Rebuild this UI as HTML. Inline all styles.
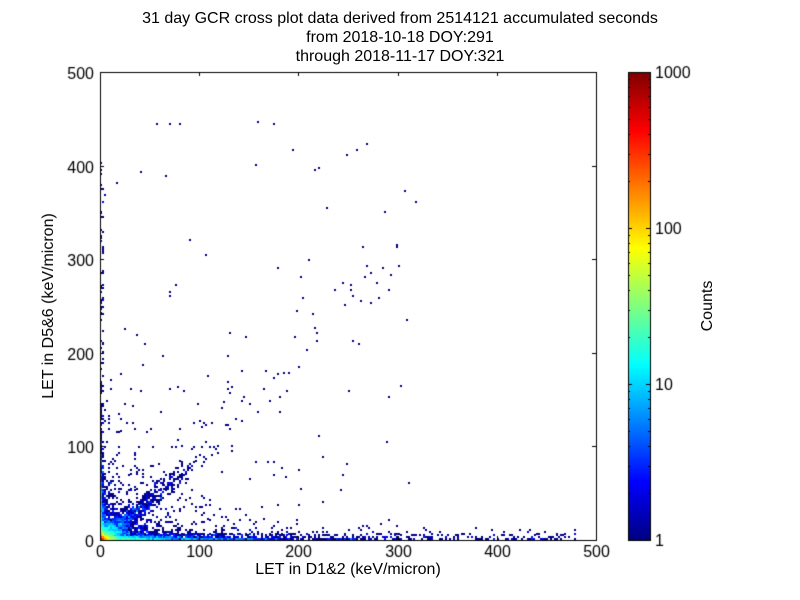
<!DOCTYPE html>
<html><head><style>
body{margin:0;background:#fff;width:800px;height:600px;overflow:hidden;position:relative;font-family:"Liberation Sans","DejaVu Sans",sans-serif;}
.t{position:absolute;font-size:16px;color:#000;white-space:nowrap;}
canvas{position:absolute;left:0;top:0}
</style></head><body>
<canvas id="c" width="800" height="600"></canvas>
<div class="t" style="left:0;width:800px;text-align:center;top:9px;line-height:19px">31 day GCR cross plot data derived from 2514121 accumulated seconds<br>from 2018-10-18 DOY:291<br>through 2018-11-17 DOY:321</div>
<div class="t" style="left:100px;width:496px;text-align:center;top:561px">LET in D1&amp;2 (keV/micron)</div>
<div class="t" style="left:49px;top:306px;transform:translate(-50%,-50%) rotate(-90deg)">LET in D5&amp;6 (keV/micron)</div>
<div class="t" style="left:708px;top:306px;transform:translate(-50%,-50%) rotate(-90deg)">Counts</div>
<script>
var c=document.getElementById('c').getContext('2d');
var X0=100,X1=596,Y0=72,Y1=540;
function px(v){return X0+v*(X1-X0)/500}function py(v){return Y1-v*(Y1-Y0)/500}
var s=12345;function r(){s=(s*1103515245+12345)%2147483648;return s/2147483648}
function jet(t){t=Math.max(0,Math.min(1,t));function f(x){return Math.round(255*Math.max(0,Math.min(1,1.5-Math.abs(x))))}
return 'rgb('+f(4*t-3)+','+f(4*t-2)+','+f(4*t-1)+')'}
var bins={};
function add(x,y,n){if(x<0||y<0||x>=500||y>=500)return;var k=Math.floor(x/2)+','+Math.floor(y/2);bins[k]=(bins[k]||0)+(n||1)}
var i,x,y,t;
for(i=0;i<1500;i++){x=-Math.log(r())*70;y=Math.abs(-Math.log(r())*3);add(x,y)}
for(i=0;i<350;i++){x=r()*480;y=Math.abs(-Math.log(r())*4);add(x,y)}
for(i=0;i<700;i++){y=-Math.log(r())*35;x=Math.abs(-Math.log(r())*1.5);add(x,y)}
for(i=0;i<80;i++){y=r()*420;x=r()*3;add(x,y)}
for(i=0;i<1500;i++){x=-Math.log(r())*2.5;y=-Math.log(r())*2.5;add(x,y)}
for(i=0;i<1200;i++){x=-Math.log(r())*10;y=-Math.log(r())*9;add(x,y)}
for(i=0;i<900;i++){t=-Math.log(r())*22;x=t+(r()-0.5)*16;y=t*0.85+(r()-0.5)*16;add(x,y)}
for(i=0;i<140;i++){t=r()*90;x=t+(r()-0.5)*12;y=t*0.85+(r()-0.5)*12;add(x,y)}
for(i=0;i<50;i++){t=90+r()*210;x=t+(r()-0.5)*40;y=t*1.0+(r()-0.5)*60;add(x,y)}
for(i=0;i<500;i++){x=-Math.log(r())*45;y=-Math.log(r())*40;add(x,y)}
for(i=0;i<80;i++){x=r()*320;y=r()*450;add(x,y)}
c.fillStyle='#fff';c.fillRect(0,0,800,600);
for(var k in bins){var p=k.split(',');var n=bins[k];c.fillStyle=jet(Math.log10(n)/3);
c.fillRect(Math.round(px(p[0]*2)),Math.round(py(p[1]*2+2)),2,2)}
c.strokeStyle='#000';c.lineWidth=1;c.strokeRect(100.5,72.5,496,468);
c.font='16px "Liberation Sans",sans-serif';
for(i=0;i<=5;i++){c.fillStyle='#000';var xx=Math.round(px(i*100))+0.5;c.beginPath();c.moveTo(xx,540);c.lineTo(xx,536);c.moveTo(xx,72);c.lineTo(xx,76);c.stroke();
c.textAlign='center';c.fillText(String(i*100),xx,557);
var yy=Math.round(py(i*100))+0.5;c.beginPath();c.moveTo(100,yy);c.lineTo(104,yy);c.moveTo(596,yy);c.lineTo(592,yy);c.stroke();
c.textAlign='right';c.fillText(String(i*100),94,yy+6)}
for(y=72;y<540;y++){c.fillStyle=jet((540-y)/468);c.fillRect(628,y,22,1)}
c.strokeRect(628.5,72.5,22,468);
c.textAlign='left';c.fillStyle='#000';
var lab=[['1',540],['10',384],['100',228],['1000',72]];
lab.forEach(function(l){var yy=l[1]+0.5;c.beginPath();c.moveTo(650,yy);c.lineTo(646,yy);c.moveTo(628,yy);c.lineTo(632,yy);c.stroke();c.fillText(l[0],655,l[1]+6)});
for(var d=0;d<3;d++)for(var m=2;m<10;m++){var yy=Math.round(540-(d+Math.log10(m))*156)+0.5;c.beginPath();c.moveTo(650,yy);c.lineTo(648,yy);c.moveTo(628,yy);c.lineTo(630,yy);c.stroke()}
</script>
</body></html>
